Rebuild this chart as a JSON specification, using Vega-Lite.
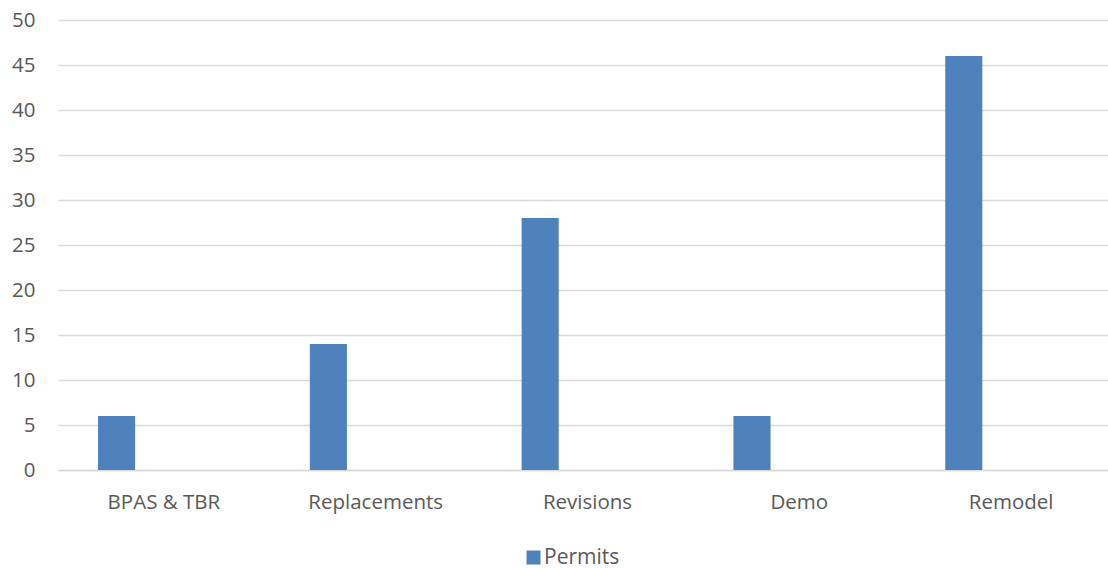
{
  "$schema": "https://vega.github.io/schema/vega-lite/v6.json",
  "width": 1050,
  "height": 450,
  "padding": {"left": 11, "top": 10, "right": 0, "bottom": 0},
  "background": "white",
  "config": {
    "view": {"stroke": null},
    "font": "Open Sans",
    "axis": {"labelFont": "Open Sans", "labelFontSize": 20.5, "labelColor": "#595959", "ticks": false, "title": null},
    "legend": {"labelFont": "Open Sans", "labelFontSize": 21, "labelColor": "#595959"}
  },
  "data": {
    "values": [
      {"category": "BPAS & TBR", "series": "Permits", "value": 6},
      {"category": "Replacements", "series": "Permits", "value": 14},
      {"category": "Revisions", "series": "Permits", "value": 28},
      {"category": "Demo", "series": "Permits", "value": 6},
      {"category": "Remodel", "series": "Permits", "value": 46}
    ]
  },
  "mark": {"type": "bar"},
  "encoding": {
    "x": {
      "field": "category",
      "type": "nominal",
      "sort": null,
      "scale": {"paddingInner": 0, "paddingOuter": 0, "range": [0, 1059]},
      "axis": {"labelAngle": 0, "labelPadding": 22, "domainColor": "#d9d9d9", "domainWidth": 1.5, "grid": false}
    },
    "xOffset": {
      "field": "series",
      "type": "nominal",
      "scale": {"domain": ["Permits", "_"], "paddingInner": 0.608, "paddingOuter": 0.423}
    },
    "y": {
      "field": "value",
      "type": "quantitative",
      "scale": {"domain": [0, 50], "nice": false},
      "axis": {"values": [0, 5, 10, 15, 20, 25, 30, 35, 40, 45, 50], "domain": false, "gridColor": "#d9d9d9", "gridWidth": 1.5, "labelPadding": 23}
    },
    "color": {
      "field": "series",
      "type": "nominal",
      "scale": {"domain": ["Permits"], "range": ["#4f81bd"]},
      "legend": {
        "title": null,
        "orient": "none",
        "legendX": 465,
        "legendY": 527,
        "symbolType": "square",
        "symbolSize": 196,
        "symbolStrokeWidth": 0,
        "labelOffset": 0,
        "padding": 0
      }
    }
  }
}
